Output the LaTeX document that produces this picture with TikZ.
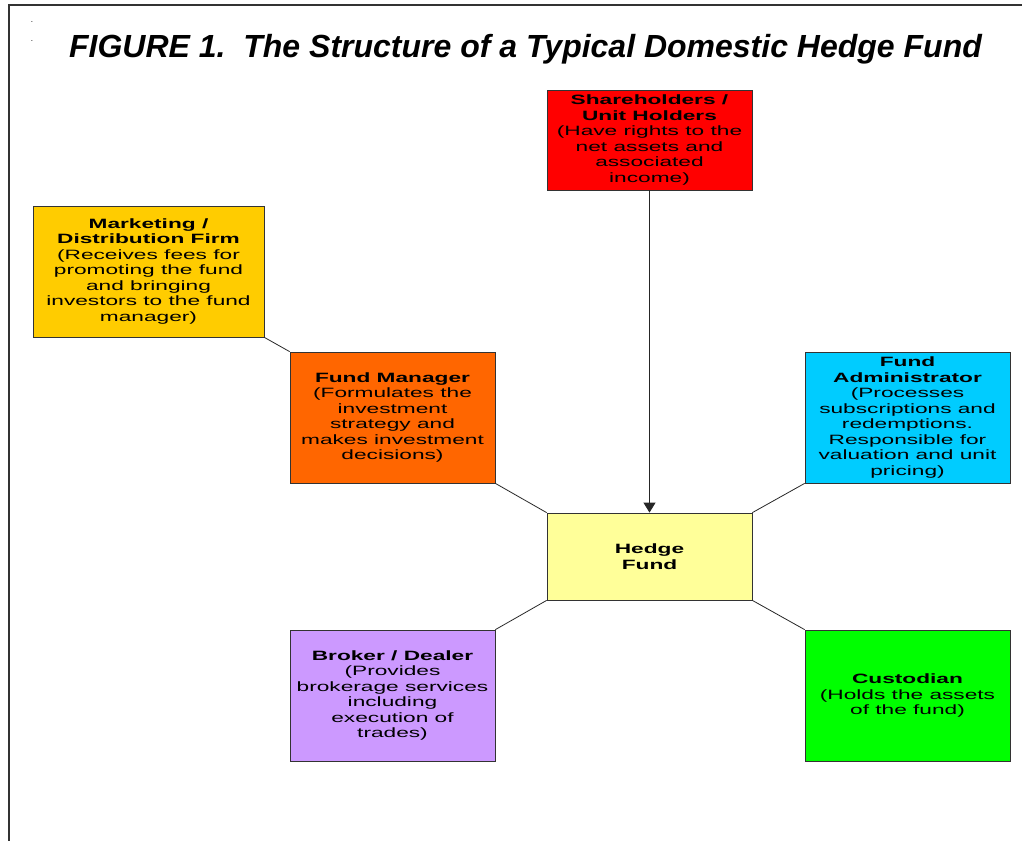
\documentclass[tikz,border=0pt]{standalone}
\usepackage{fontspec}
\setmainfont{Liberation Sans}
\newfontfamily\boxfont[FakeStretch=1.68]{Liberation Sans}
\usetikzlibrary{arrows.meta}

\definecolor{sharered}{HTML}{FF0000}
\definecolor{marketgold}{HTML}{FFCC00}
\definecolor{managerorange}{HTML}{FF6600}
\definecolor{admincyan}{HTML}{00CCFF}
\definecolor{hedgeyellow}{HTML}{FFFF99}
\definecolor{brokerlilac}{HTML}{CC99FF}
\definecolor{custodygreen}{HTML}{00FF00}

\begin{document}
\begin{tikzpicture}
      [
        x=1pt, y=-1pt,
        box/.style={draw=black!80, line width=0.8pt, minimum width=205pt,
          minimum height=131pt, inner sep=0pt, align=center,
          font=\boxfont\fontsize{13.5}{15.5}\selectfont},
        link/.style={draw=black!85, line width=0.8pt}
      ]
      \useasboundingbox (0,0) rectangle (1022,841);
      % frame
      \draw[line width=2pt, black!80] (1022,5) -- (8.5,5) -- (8.5,841);
      \node[font=\fontsize{8}{8}\selectfont, inner sep=0pt] (dota) at (32,22) {.};
      \node[font=\fontsize{8}{8}\selectfont, inner sep=0pt] (dotb) at (32,41) {.};
      % title
      \node[anchor=base, inner sep=0pt, font=\fontsize{32}{38}\selectfont\bfseries\itshape]
        (title) at (525.5,57) {FIGURE 1.\ \ The Structure of a Typical Domestic Hedge Fund};
      % boxes
      \node[box, fill=sharered, minimum height=100pt] (share) at (649.5,140)
        {\textbf{Shareholders /}\\\textbf{Unit Holders}\\(Have rights to the\\net assets and\\associated\\income)};
      \node[box, fill=marketgold, minimum width=231pt] (market) at (148.5,271.5)
        {\textbf{Marketing /}\\\textbf{Distribution Firm}\\(Receives fees for\\promoting the fund\\and bringing\\investors to the fund\\manager)};
      \node[box, fill=managerorange] (manager) at (392.5,417.5)
        {\textbf{Fund Manager}\\(Formulates the\\investment\\strategy and\\makes investment\\decisions)};
      \node[box, fill=admincyan] (admin) at (907.5,417.5)
        {\textbf{Fund}\\\textbf{Administrator}\\(Processes\\subscriptions and\\redemptions.\\Responsible for\\valuation and unit\\pricing)};
      \node[box, fill=hedgeyellow, minimum height=87pt] (hedge) at (649.5,556.5)
        {\textbf{Hedge}\\\textbf{Fund}};
      \node[box, fill=brokerlilac] (broker) at (392.5,695.5)
        {\textbf{Broker / Dealer}\\(Provides\\brokerage services\\including\\execution of\\trades)};
      \node[box, fill=custodygreen] (custody) at (907.5,695.5)
        {\textbf{Custodian}\\(Holds the assets\\of the fund)};
      % edges
      \draw[link, -{Triangle[width=12pt,length=10pt]}] (share) -- (hedge);
      \draw[link] (market.south east) -- (manager.north west);
      \draw[link] (manager.south east) -- (hedge.north west);
      \draw[link] (admin.south west) -- (hedge.north east);
      \draw[link] (broker.north east) -- (hedge.south west);
      \draw[link] (custody.north west) -- (hedge.south east);
    \end{tikzpicture}
\end{document}
